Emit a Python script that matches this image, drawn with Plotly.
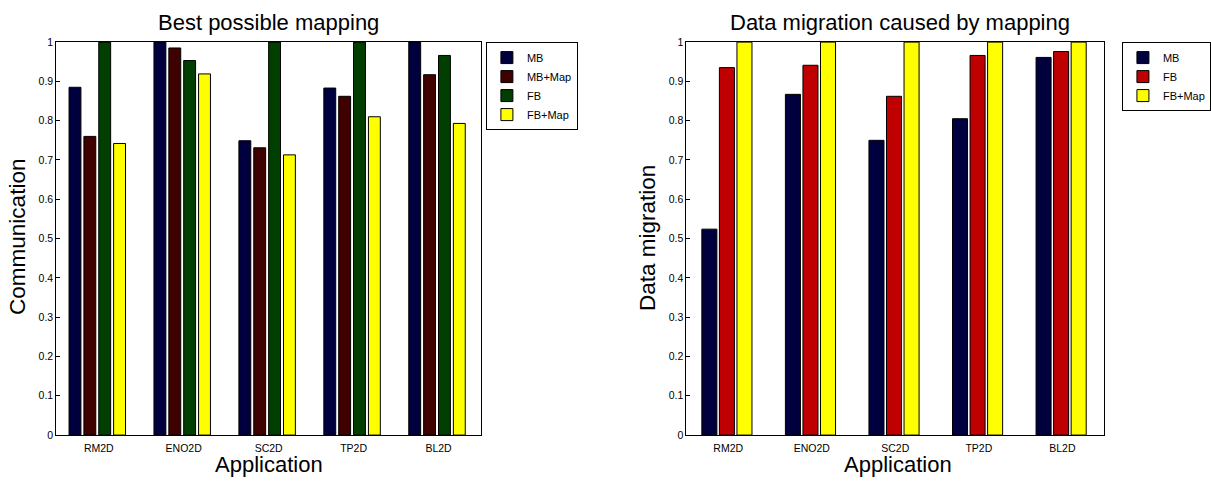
import plotly.graph_objects as go

apps = ["RM2D", "ENO2D", "SC2D", "TP2D", "BL2D"]

# Left chart: Communication
comm_series = ["MB", "MB+Map", "FB", "FB+Map"]
comm_mb = [0.885, 1.0, 0.749, 0.883, 1.0]
comm_mbmap = [0.760, 0.985, 0.731, 0.862, 0.917]
comm_fb = [1.0, 0.953, 1.0, 1.0, 0.966]
comm_fbmap = [0.742, 0.919, 0.713, 0.810, 0.793]

# Right chart: Data migration
mig_series = ["MB", "FB", "FB+Map"]
mig_mb = [0.524, 0.867, 0.750, 0.805, 0.961]
mig_fb = [0.935, 0.941, 0.862, 0.966, 0.976]
mig_fbmap = [1.0, 1.0, 1.0, 1.0, 1.0]

yticks = [0, 0.1, 0.2, 0.3, 0.4, 0.5, 0.6, 0.7, 0.8, 0.9, 1]

W, H = 1211, 483
FONT = "Liberation Sans, Arial, Helvetica, sans-serif"

fig = go.Figure()

left_colors = ["#00003f", "#3f0000", "#003f00", "#ffff00"]
left_vals = [comm_mb, comm_mbmap, comm_fb, comm_fbmap]
lw = 0.14
loffs = [-0.35, -0.175, 0.0, 0.175]
for name, vals, col, off in zip(comm_series, left_vals, left_colors, loffs):
    fig.add_trace(go.Bar(
        x=apps, y=vals, name=name, xaxis="x", yaxis="y",
        marker=dict(color=col, line=dict(color="#000000", width=1)),
        width=lw, offset=off, legend="legend",
    ))

right_colors = ["#00003f", "#bf0000", "#ffff00"]
right_vals = [mig_mb, mig_fb, mig_fbmap]
rw = 0.18
roffs = [-0.315, -0.105, 0.105]
for name, vals, col, off in zip(mig_series, right_vals, right_colors, roffs):
    fig.add_trace(go.Bar(
        x=apps, y=vals, name=name, xaxis="x2", yaxis="y2",
        marker=dict(color=col, line=dict(color="#000000", width=1)),
        width=rw, offset=off, legend="legend2",
    ))

def px_x(p):
    return p / W

def px_y(p):
    return 1 - p / H

ax_common = dict(
    showline=True, linecolor="black", linewidth=1, mirror=True,
    showgrid=False, zeroline=False,
)

ydom = [px_y(440), px_y(37)]

def label(text, x, y, size, angle=0):
    return dict(text=text, x=px_x(x), y=px_y(y), textangle=angle,
                xref="paper", yref="paper", showarrow=False,
                xanchor="center", yanchor="middle",
                font=dict(family=FONT, size=size, color="black"))

legend_common = dict(xanchor="left", yanchor="top",
                     bordercolor="black", borderwidth=1, bgcolor="white",
                     font=dict(family=FONT, size=11, color="black"),
                     itemwidth=30, tracegroupgap=0)

xtick_font = dict(family=FONT, size=10.5, color="black")
ytick_font = dict(family=FONT, size=10.5, color="black")

fig.update_layout(
    width=W, height=H,
    margin=dict(l=0, r=0, t=0, b=0),
    paper_bgcolor="white", plot_bgcolor="white",
    font=dict(family=FONT, color="black"),
    showlegend=True,
    xaxis=dict(domain=[px_x(57), px_x(487)], anchor="y", ticks="",
               range=[-0.5, 4.5], tickfont=xtick_font, ticklabelstandoff=3,
               **ax_common),
    yaxis=dict(domain=ydom, anchor="x", range=[0, 1], tickvals=yticks,
               ticks="inside", ticklen=4, tickcolor="black",
               tickfont=ytick_font, **ax_common),
    xaxis2=dict(domain=[px_x(695), px_x(1118)], anchor="y2", ticks="",
                range=[-0.5, 4.5], tickfont=xtick_font, ticklabelstandoff=3,
                **ax_common),
    yaxis2=dict(domain=ydom, anchor="x2", range=[0, 1], tickvals=yticks,
                ticks="inside", ticklen=4, tickcolor="black",
                tickfont=ytick_font, **ax_common),
    legend=dict(x=px_x(492), y=px_y(37), **legend_common),
    legend2=dict(x=px_x(1136), y=px_y(37), **legend_common),
    annotations=[
        label("Best possible mapping", 272, 17, 22),
        label("Data migration caused by mapping", 911, 17, 22),
        label("Application", 272, 470, 22),
        label("Application", 909, 470, 22),
        label("Communication", 17, 237, 22.5, -90),
        label("Data migration", 655, 238, 22.5, -90),
    ],
)

fig.write_html("out.html")
